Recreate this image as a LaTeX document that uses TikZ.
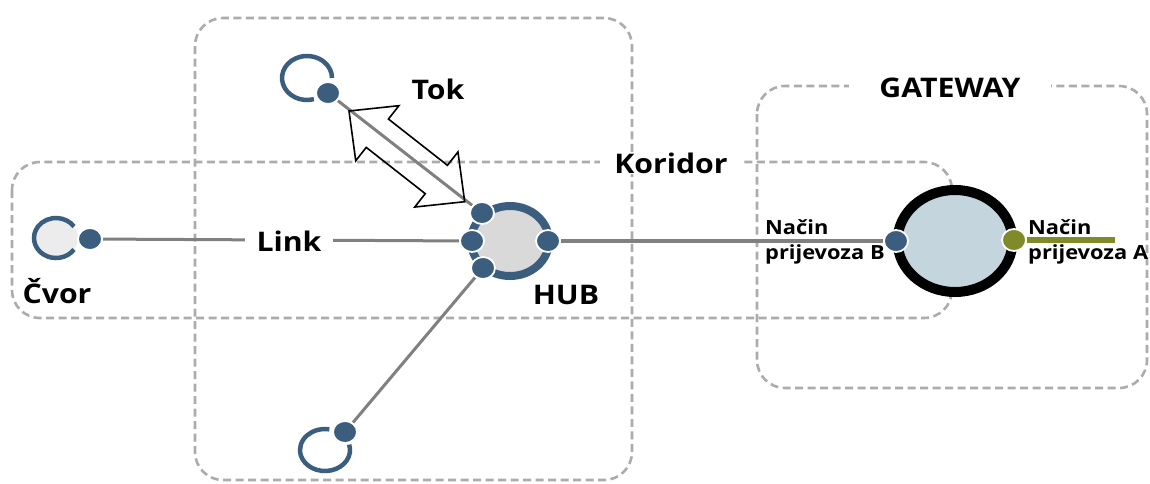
\documentclass[tikz,border=0pt]{standalone}
\usepackage{fontspec}
\setmainfont{Open Sans}[FakeStretch=1.12]
\usetikzlibrary{shapes.geometric}
\definecolor{nblue}{RGB}{60,94,126}
\definecolor{boxgray}{RGB}{172,172,172}
\definecolor{lgray}{RGB}{128,128,128}
\definecolor{olivec}{RGB}{128,138,40}
\definecolor{gwfill}{RGB}{196,213,221}
\definecolor{hubfill}{RGB}{217,217,217}
\definecolor{cvorfill}{RGB}{236,236,236}
\pgfdeclarelayer{bg}
\pgfdeclarelayer{lines}
\pgfsetlayers{bg,lines,main}
\begin{document}
\begin{tikzpicture}[x=1pt,y=-1pt,
  zone/.style={draw=boxgray, line width=2.6pt, dash pattern=on 8pt off 4.5pt, rounded corners=28pt},
  dot/.style={ellipse, fill=nblue, draw=white, line width=1.8pt, minimum width=24pt, minimum height=22pt, inner sep=0pt},
  odot/.style={dot, fill=olivec},
  ring/.style={draw=nblue, line width=4.5pt},
  link/.style={draw=lgray, line width=3pt},
  big/.style={font=\fontsize{27}{30}\selectfont\bfseries, text=black},
  small/.style={font=\fontsize{19.5}{25}\selectfont\bfseries, align=left, text=black, inner sep=0pt}]
\useasboundingbox (0,0) rectangle (1150,483);

% zones
\begin{pgfonlayer}{bg}
\fill[white] (0,0) rectangle (1150,483);
\draw[zone] (12,162) rectangle (952,318);
\draw[zone] (195,18) rectangle (632,480);
\draw[zone] (757,86) rectangle (1147,388);
\end{pgfonlayer}

% small open nodes
\fill[cvorfill] (56,238) ellipse [x radius=22, y radius=20];
\draw[ring] ([shift={(35:22 and 20)}]56,238) arc[start angle=35, end angle=325, x radius=22, y radius=20];
\draw[ring] ([shift={(74:25 and 22)}]307,78) arc[start angle=74, end angle=360, x radius=25, y radius=22];
\draw[ring] ([shift={(-15:25 and 21)}]325,450) arc[start angle=-15, end angle=280, x radius=25, y radius=21];

% hub
\node[ellipse, draw=nblue, fill=hubfill, line width=8pt, minimum width=78pt, minimum height=70pt, inner sep=0pt] (hub) at (510,241) {};
% gateway
\node[ellipse, draw=black, fill=gwfill, line width=10pt, minimum width=115pt, minimum height=102pt, inner sep=0pt] (gw) at (955,241) {};

% dots
\node[dot] (cd) at (90,239) {};
\node[dot] (td) at (328,93) {};
\node[dot] (bd) at (345,432) {};
\node[dot] (htl) at (482,213) {};
\node[dot] (hl) at (472,241) {};
\node[dot] (hbl) at (483,268) {};
\node[dot] (hr) at (548,241) {};
\node[dot] (gwl) at (896,241) {};
\node[odot] (gwr) at (1014,240) {};
\coordinate (oend) at (1115,240);

% connectors
\begin{pgfonlayer}{lines}
\draw[link] (cd) -- (hl);
\draw[link] (td) -- (htl);
\draw[link] (bd) -- (hbl);
\draw[link, line width=4.5pt] (hr) -- (gwl);
\draw[draw=olivec, line width=5.5pt] (gwr) -- (oend);
\end{pgfonlayer}

% flow double arrow
\begin{scope}[shift={(349,111)}, rotate=-38.1]
\draw[line width=1.6pt, line join=miter] (0,0) -- (36,-35) -- (36,-18) -- (111,-18) -- (111,-35) -- (147,0) -- (111,35) -- (111,18) -- (36,18) -- (36,35) -- cycle;
\end{scope}

% labels
\node[big] (cvor) at (57,291) {Čvor};
\node[big] (tok) at (438,89) {Tok};
\node[big, fill=white, inner xsep=12pt, inner ysep=1pt] (lnk) at (289,241) {Link};
\node[big] (hublbl) at (566,295) {HUB};
\node[big, fill=white, inner xsep=14pt, inner ysep=1pt] (kor) at (671,163) {Koridor};
\node[big, fill=white, inner xsep=30pt, inner ysep=1pt] (gwlbl) at (950,88) {GATEWAY};
\node[small, anchor=base west] (nb) at (765,259) {Način\\prijevoza B};
\node[small, anchor=base west] (na) at (1028,259) {Način\\prijevoza A};
\end{tikzpicture}
\end{document}
